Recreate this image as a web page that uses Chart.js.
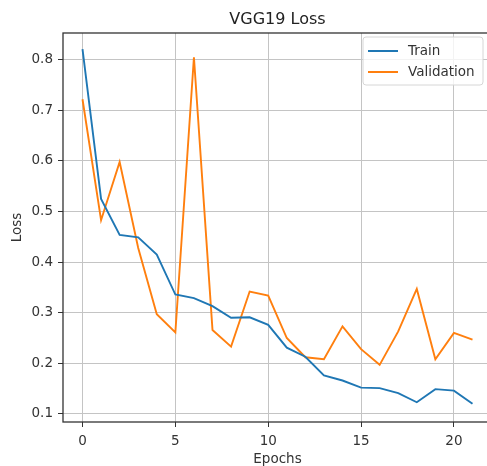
<!DOCTYPE html>
<html>
<head>
<meta charset="utf-8">
<script src="https://cdn.jsdelivr.net/npm/chart.js@4.4.0/dist/chart.umd.min.js"></script>
<style>
html, body { margin: 0; padding: 0; background: #fff; overflow: hidden; }
canvas { display: block; }
</style>
</head>
<body>
<canvas id="grafica" width="500" height="468"></canvas>
<script>
// datos
const epochs = [0, 1, 2, 3, 4, 5, 6, 7, 8, 9, 10, 11, 12, 13, 14, 15, 16, 17, 18, 19, 20, 21];
const trainLoss = [0.821, 0.525, 0.454, 0.449, 0.415, 0.336, 0.329, 0.313, 0.290, 0.291, 0.276, 0.231, 0.213, 0.176, 0.166, 0.152, 0.151, 0.141, 0.123, 0.149, 0.146, 0.120];
const valLoss = [0.722, 0.483, 0.598, 0.428, 0.297, 0.261, 0.805, 0.266, 0.233, 0.342, 0.334, 0.250, 0.212, 0.208, 0.273, 0.228, 0.197, 0.263, 0.347, 0.208, 0.260, 0.247];
const xTicks = [0, 5, 10, 15, 20];
const yTicks = [0.1, 0.2, 0.3, 0.4, 0.5, 0.6, 0.7, 0.8];
const seriesLabels = ['Train', 'Validation'];
const seriesColors = ['#1f77b4', '#ff7f0e'];

const fuente = "'DejaVu Sans', sans-serif";
Chart.defaults.font.family = fuente;
Chart.defaults.color = '#333';

// marco completo del area de la grafica
const marco = {
  id: 'marco',
  afterDatasetsDraw(chart) {
    const {ctx, chartArea: a} = chart;
    ctx.save();
    ctx.strokeStyle = '#333';
    ctx.lineWidth = 1.3;
    ctx.strokeRect(a.left, a.top, a.right - a.left, a.bottom - a.top);
    ctx.restore();
  }
};

// leyenda dentro del area, arriba a la derecha (estilo matplotlib)
const leyenda = {
  id: 'leyenda',
  afterDraw(chart) {
    const {ctx, chartArea: a} = chart;
    const w = 120, h = 48;
    const x = a.right - 9 - w, y = a.top + 4;
    ctx.save();
    ctx.beginPath();
    ctx.roundRect(x, y, w, h, 3);
    ctx.fillStyle = 'rgba(255,255,255,0.8)';
    ctx.fill();
    ctx.strokeStyle = '#d6d6d6';
    ctx.lineWidth = 1;
    ctx.stroke();
    ctx.font = '13.5px ' + fuente;
    ctx.textBaseline = 'middle';
    chart.data.datasets.forEach((ds, i) => {
      const fy = y + 14 + i * 21;
      ctx.strokeStyle = ds.borderColor;
      ctx.lineWidth = 2;
      ctx.beginPath();
      ctx.moveTo(x + 5, fy);
      ctx.lineTo(x + 35, fy);
      ctx.stroke();
      ctx.fillStyle = '#333';
      ctx.fillText(ds.label, x + 45, fy);
    });
    ctx.restore();
  }
};

const series = [trainLoss, valLoss];

new Chart(document.getElementById('grafica').getContext('2d'), {
  type: 'line',
  data: {
    datasets: series.map((vals, i) => ({
      label: seriesLabels[i],
      data: epochs.map((e, j) => ({x: e, y: vals[j]})),
      borderColor: seriesColors[i],
      backgroundColor: seriesColors[i],
      borderWidth: 1.9,
      pointRadius: 0,
      tension: 0,
      fill: false
    }))
  },
  options: {
    responsive: false,
    animation: false,
    layout: { padding: { left: 0, right: 8, top: 0, bottom: 0 } },
    plugins: {
      legend: { display: false },
      tooltip: { enabled: false },
      title: {
        display: true,
        text: 'VGG19 Loss',
        fullSize: false,
        color: '#222',
        font: { size: 16, weight: 'normal' },
        padding: { top: 10.4, bottom: 3.4 }
      }
    },
    scales: {
      x: {
        type: 'linear',
        min: -1.05,
        max: 22.05,
        afterBuildTicks: s => { s.ticks = xTicks.map(v => ({value: v})); },
        afterFit: s => { s.height = 46; },
        ticks: { font: { size: 13.5 }, padding: 6, maxRotation: 0 },
        grid: { color: '#c4c4c4', lineWidth: 1, tickLength: 5, tickColor: '#333', drawTicks: true },
        border: { display: false },
        title: { display: true, text: 'Epochs', font: { size: 13.5 }, padding: { top: 0, bottom: 0 } }
      },
      y: {
        type: 'linear',
        min: 0.084,
        max: 0.853,
        afterBuildTicks: s => { s.ticks = yTicks.map(v => ({value: v})); },
        afterFit: s => { s.width = 63; },
        ticks: { font: { size: 13.5 }, padding: 5, callback: v => v.toFixed(1) },
        grid: { color: '#c4c4c4', lineWidth: 1, tickLength: 5, tickColor: '#333', drawTicks: true },
        border: { display: false },
        title: { display: true, text: 'Loss', font: { size: 13.5 }, padding: { top: 9, bottom: 0 } }
      }
    }
  },
  plugins: [marco, leyenda]
});
</script>
</body>
</html>
